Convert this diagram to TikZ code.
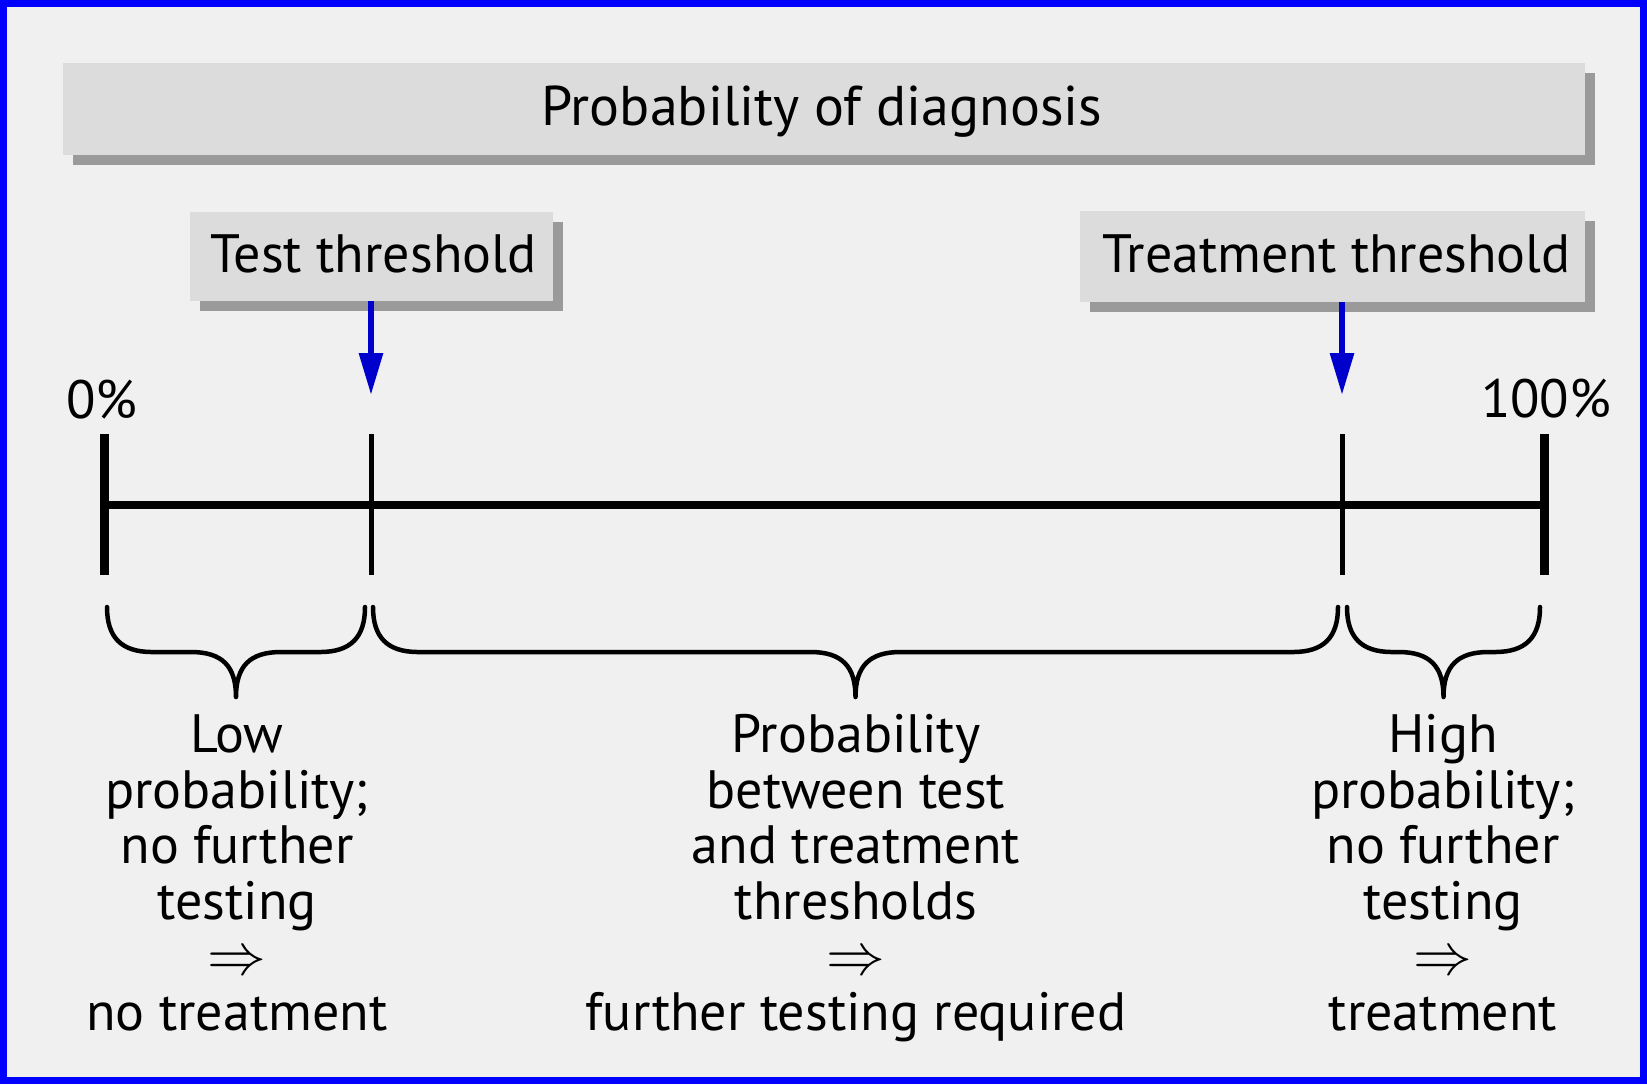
\documentclass[tikz,border=0pt]{standalone}
\usepackage{fontspec}
\setmainfont{PT Sans}
\usetikzlibrary{arrows.meta,shadows}
\definecolor{bgc}{HTML}{F0F0F0}
\definecolor{boxc}{HTML}{DCDCDC}
\definecolor{shadc}{HTML}{9A9A9A}
\definecolor{framec}{HTML}{0000FF}
\definecolor{arrc}{HTML}{0000CC}
\newcommand{\implarrow}{\scalebox{1.18}{$\Rightarrow$}}
\begin{document}
\begin{tikzpicture}[x=0.5pt,y=-0.5pt,
  txt/.style={font=\fontsize{27}{27.75}\selectfont, inner sep=0pt, text=black},
  shbox/.style={fill=boxc, draw=none, inner sep=0pt,
     drop shadow={shadow xshift=5pt, shadow yshift=-5pt, fill=shadc, opacity=1}},
  arr/.style={draw=arrc, line width=3pt, -{Triangle[length=21pt,width=11.5pt]}},
  mainline/.style={line width=4.3pt},
  endtick/.style={line width=4.5pt},
  midtick/.style={line width=2.5pt},
  bracel/.style={line width=2.25pt, line cap=round, line join=round},
  block/.style={txt, align=center, anchor=base}
]
\useasboundingbox (0,0) rectangle (1647,1084);
\fill[bgc] (0,0) rectangle (1647,1084);
\draw[framec, line width=3.5pt] (3.5,3.5) rectangle (1643.5,1080.5);

% boxes
\node[shbox, minimum width=761pt, minimum height=46pt] (title) at (824,109) {};
\node[txt, anchor=base, font=\fontsize{28}{30}\selectfont] (titletxt) at (822,125) {Probability of diagnosis};
\node[shbox, minimum width=181.5pt, minimum height=44.5pt] (test) at (371.5,256.5) {};
\node[txt, anchor=base] (testtxt) at (373.5,272) {Test threshold};
\node[shbox, minimum width=252.5pt, minimum height=45.5pt] (treat) at (1332.5,256.5) {};
\node[txt, anchor=base] (treattxt) at (1336.5,272) {Treatment threshold};

% scale coordinates
\coordinate (k0) at (104,505);
\coordinate (k1) at (371,505);
\coordinate (k2) at (1342,505);
\coordinate (k3) at (1544,505);
\coordinate (a1) at (371,395);
\coordinate (a2) at (1342,395);

\draw[arr] (test.south -| a1) -- (a1);
\draw[arr] (treat.south -| a2) -- (a2);

\draw[mainline] (k0) -- (k3);
\draw[endtick] (104,434) -- (104,575);
\draw[endtick] (1544,434) -- (1544,575);
\draw[midtick] (371,434) -- (371,575);
\draw[midtick] (1342,434) -- (1342,575);

\node[txt, anchor=base] (p0) at (102,418) {0\%};
\node[txt, anchor=base] (p100) at (1546,417) {100\%};

% braces
\foreach \xa/\xb in {107/365, 373/1338, 1347/1540}{
  \pgfmathsetmacro{\xm}{(\xa+\xb)/2}
  \draw[bracel] (\xa,607) .. controls (\xa,637) and (\xa+14,652) .. (\xa+45,652)
     -- (\xm-45,652) .. controls (\xm-14,652) and (\xm,666) .. (\xm,697)
     .. controls (\xm,666) and (\xm+14,652) .. (\xm+45,652)
     -- (\xb-45,652) .. controls (\xb-14,652) and (\xb,637) .. (\xb,607);
}

\node[block] (low) at (237,1030) {Low\\probability;\\no further\\testing\\\implarrow\\no treatment};
\node[block] (mid) at (856,1030) {Probability\\between test\\and treatment\\thresholds\\\implarrow\\further testing required};
\node[block] (high) at (1443,1030) {High\\probability;\\no further\\testing\\\implarrow\\treatment};
\end{tikzpicture}
\end{document}
